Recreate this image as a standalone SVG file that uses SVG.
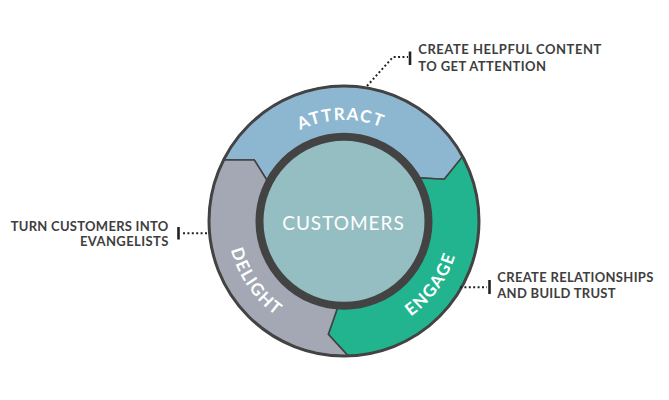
<svg xmlns="http://www.w3.org/2000/svg" width="669" height="400" viewBox="0 0 669 400">
<style>
.seg{stroke:#434343;stroke-width:1.6;stroke-linejoin:miter}
.lbl{font-family:Lato,"Liberation Sans",sans-serif;font-weight:700;font-size:17px;fill:#ffffff;letter-spacing:1.4px}
.note{font-family:Lato,"Liberation Sans",sans-serif;font-weight:700;font-size:13px;fill:#3e3e3e}
.dots{fill:none;stroke:#222;stroke-width:2;stroke-dasharray:2 2.4}
.bar{stroke:#222;stroke-width:2.6}
</style>
<defs>
<path id="pAttract" d="M255.1,173.1 A101,101 0 0,1 429.9,167.9"/>
<path id="pDelight" d="M228,209.8 A116.5,116.5 0 0,0 312.9,333.3"/>
<path id="pEngage" d="M372.2,334 A116.5,116.5 0 0,0 460.2,212.9"/>
</defs>
<rect width="669" height="400" fill="#ffffff"/>
<g id="attract">
<path class="seg" fill="#8db7d0" d="M223.7,159.7 A135,135 0 0,1 462.6,156.6 L444.3,179.3 L416,177.7 A84,84 0 0,0 268.9,183.4 L254.3,160 Z"/>
<text class="lbl"><textPath href="#pAttract" startOffset="50%" text-anchor="middle">ATTRACT</textPath></text>
</g>
<g id="engage">
<path class="seg" fill="#21b48f" d="M462.6,156.6 A135,135 0 0,1 348.2,355.9 L328.3,334.3 L338.6,304.8 A84,84 0 0,0 416,177.7 L444.3,179.3 Z"/>
<text class="lbl"><textPath href="#pEngage" startOffset="50%" text-anchor="middle">ENGAGE</textPath></text>
</g>
<g id="delight">
<path class="seg" fill="#a3a8b4" d="M348.2,355.9 A135,135 0 0,1 223.7,159.7 L254.3,160 L268.9,183.4 A84,84 0 0,0 338.6,304.8 L328.3,334.3 Z"/>
<text class="lbl"><textPath href="#pDelight" startOffset="50%" text-anchor="middle">DELIGHT</textPath></text>
</g>
<g id="ring">
<circle cx="344" cy="221" r="135" fill="none" stroke="#434343" stroke-width="3"/>
</g>
<g id="customers">
<circle cx="344" cy="221.3" r="84.5" fill="#95bec2" stroke="#434343" stroke-width="8"/>
<text x="343.5" y="230" text-anchor="middle" font-family="Lato,'Liberation Sans',sans-serif" font-size="19" fill="#ffffff" letter-spacing="1">CUSTOMERS</text>
</g>
<g id="connectors">
<polyline class="dots" points="367,86 393,57 408,57"/>
<line class="bar" x1="410" y1="51.5" x2="410" y2="65"/>
<line class="dots" x1="183" y1="233.3" x2="208" y2="233.3"/>
<line class="bar" x1="178.5" y1="227" x2="178.5" y2="239.5"/>
<line class="dots" x1="460" y1="287.3" x2="487" y2="287.3"/>
<line class="bar" x1="489.5" y1="280" x2="489.5" y2="294"/>
</g>
<g id="note-attract">
<text class="note" x="418.3" y="54" textLength="183" lengthAdjust="spacing">CREATE HELPFUL CONTENT</text>
<text class="note" x="418.3" y="71" textLength="127.7" lengthAdjust="spacing">TO GET ATTENTION</text>
</g>
<g id="note-delight">
<text class="note" x="10.7" y="231" textLength="157.6" lengthAdjust="spacing">TURN CUSTOMERS INTO</text>
<text class="note" x="80" y="245.7" textLength="88.3" lengthAdjust="spacing">EVANGELISTS</text>
</g>
<g id="note-engage">
<text class="note" x="497.3" y="281.7" textLength="156" lengthAdjust="spacing">CREATE RELATIONSHIPS</text>
<text class="note" x="497.3" y="298.3" textLength="118.3" lengthAdjust="spacing">AND BUILD TRUST</text>
</g>
</svg>
